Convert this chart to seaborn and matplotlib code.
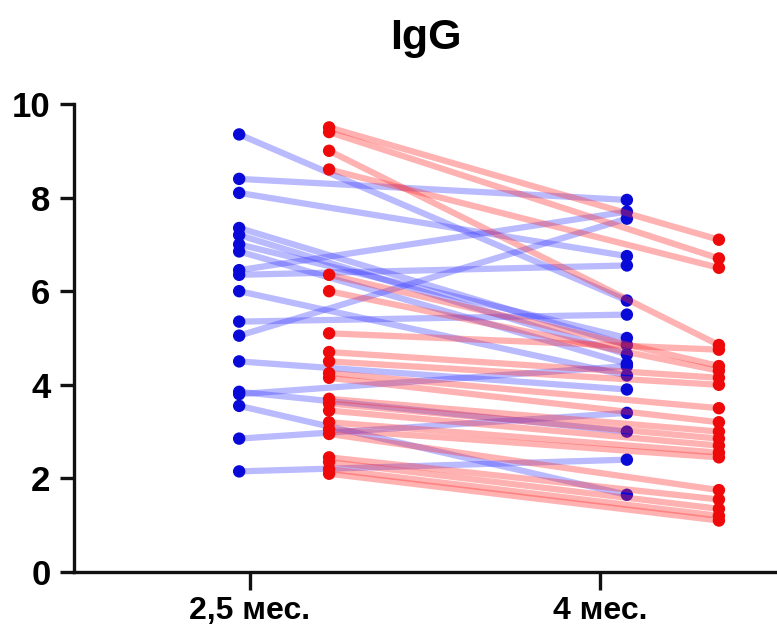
import pandas as pd
import seaborn as sns
import matplotlib.pyplot as plt

# IgG at 2,5 and 4 months, paired values per patient
blue_start = [9.35, 8.4, 8.1, 7.35, 7.2, 7.0, 6.85, 6.45, 6.35, 6.0,
              5.35, 5.05, 4.5, 3.85, 3.8, 3.55, 2.85, 2.15]
blue_end = [5.8, 7.95, 6.75, 4.85, 4.65, 5.0, 4.45, 7.7, 6.55, 4.2,
            5.5, 7.55, 3.9, 3.0, 4.4, 1.65, 3.4, 2.4]

red_start = [9.5, 9.4, 9.0, 8.6, 6.35, 6.0, 5.1, 4.7, 4.5, 4.25, 4.15,
             3.7, 3.6, 3.45, 3.2, 3.05, 2.95, 2.45, 2.35, 2.2, 2.1]
red_end = [7.1, 6.7, 4.85, 6.5, 4.4, 4.3, 4.75, 4.15, 4.0, 3.5, 3.2,
           3.0, 2.85, 2.7, 2.55, 2.45, 1.75, 1.55, 1.35, 1.2, 1.1]

tick_labels = ["2,5 мес.", "4 мес."]
title = "IgG"

# horizontal offsets of each group around the two ticks (layout only)
blue_x = [-0.031, 1.077]
red_x = [0.226, 1.34]


def long_table(start, end, xs):
    rows = []
    for i, (a, b) in enumerate(zip(start, end)):
        rows.append({"id": i, "x": xs[0], "val": a})
        rows.append({"id": i, "x": xs[1], "val": b})
    return pd.DataFrame(rows)


blue = long_table(blue_start, blue_end, blue_x)
red = long_table(red_start, red_end, red_x)

sns.set_style("white")
plt.rcParams["font.family"] = ["Liberation Sans", "DejaVu Sans"]
plt.rcParams["text.color"] = "black"

fig = plt.figure(figsize=(7.77, 6.34), dpi=100)
ax = fig.add_axes([74 / 777, 1 - 572 / 634, 1 - 74 / 777, (572 - 104) / 634])

sns.lineplot(data=blue, x="x", y="val", units="id", estimator=None,
             color="#3a3aff", alpha=0.35, lw=4.5, ax=ax, zorder=2)
sns.scatterplot(data=blue, x="x", y="val", color="#0a0ad8", s=80,
                edgecolor="none", ax=ax, zorder=3)
sns.lineplot(data=red, x="x", y="val", units="id", estimator=None,
             color="#ff2a2a", alpha=0.36, lw=4.5, ax=ax, zorder=4)
sns.scatterplot(data=red, x="x", y="val", color="#ee0a0a", s=80,
                edgecolor="none", ax=ax, zorder=5)

ax.set_xlim(-0.503, 1.506)
ax.set_ylim(0, 10)
ax.set_yticks([0, 2, 4, 6, 8, 10])
ax.set_xticks([0, 1])
ax.set_xticklabels(tick_labels)
ax.set_xlabel("")
ax.set_ylabel("")

for s in ["top", "right"]:
    ax.spines[s].set_visible(False)
for s in ["left", "bottom"]:
    ax.spines[s].set_linewidth(2.4)
    ax.spines[s].set_color("#111111")
    ax.spines[s].set_zorder(6)

ax.tick_params(axis="y", length=10, width=2.4, pad=7, labelsize=25,
               color="#111111", labelcolor="black", left=True)
ax.tick_params(axis="x", length=13, width=2.4, pad=4, labelsize=23,
               color="#111111", labelcolor="black", bottom=True)
for lab in ax.get_yticklabels() + ax.get_xticklabels():
    lab.set_fontweight("bold")

ax.set_title(title, fontsize=31, fontweight="bold", y=1.1, color="black")

fig.savefig("out.png", dpi=100)
